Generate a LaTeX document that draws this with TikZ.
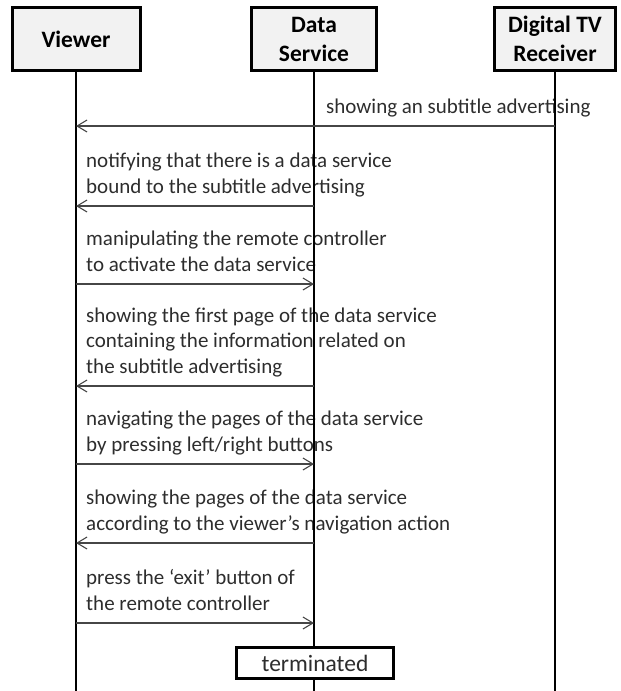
\documentclass[tikz,border=0pt]{standalone}
\usepackage{fontspec}
\setmainfont{Carlito}
\usetikzlibrary{arrows.meta,positioning}
\usepackage{xcolor}
\definecolor{sqgray}{RGB}{242,242,242}
\definecolor{sqline}{RGB}{70,70,70}
\definecolor{sqtext}{RGB}{45,45,45}
\tikzset{
    actor/.style={
        draw=black,line width=3pt,fill=sqgray,
        align=center,font=\fontsize{23.5}{29}\selectfont\bfseries
    },
    lifeline/.style={
        draw=black,line width=2pt
    },
    msg/.style={
        -{Straight Barb[length=10pt,width=12pt]},line width=1.1pt,draw=sqline
    },
    msgtext/.style={
        anchor=base west,inner sep=0pt,align=left,
        font=\fontsize{21}{25.5}\selectfont,text=sqtext
    }
}
\begin{document}
\begin{tikzpicture}[x=1pt,y=-1pt]

\useasboundingbox (0,0) rectangle (621,691);

% participants
\node[actor,minimum width=128pt,minimum height=63pt] (viewer) at (76,39) {Viewer};
\node[actor,minimum width=125pt,minimum height=63pt] (dataserv) at (314,39) {Data\\Service};
\node[actor,minimum width=121pt,minimum height=63pt] (tvrecv) at (555,39) {Digital TV\\Receiver};

% message texts (base = last line)
\node[msgtext] (t1) at (326,113) {showing an subtitle advertising};
\node[msgtext] (t2) at (86,193) {notifying that there is a data service\\bound to the subtitle advertising};
\node[msgtext] (t3) at (86,271) {manipulating the remote controller\\to activate the data service};
\node[msgtext] (t4) at (86,373) {showing the first page of the data service\\containing the information related on\\the subtitle advertising};
\node[msgtext] (t5) at (86,451) {navigating the pages of the data service\\by pressing left/right buttons};
\node[msgtext] (t6) at (86,530) {showing the pages of the data service\\according to the viewer’s navigation action};
\node[msgtext] (t7) at (86,610) {press the ‘exit’ button of\\the remote controller};

% lifelines
\coordinate (viewer-end) at (viewer.south |- 0,691);
\coordinate (dataserv-end) at (dataserv.south |- 0,691);
\coordinate (tvrecv-end) at (tvrecv.south |- 0,691);
\draw[lifeline] (viewer.south) -- (viewer-end);
\draw[lifeline] (dataserv.south) -- (dataserv-end);
\draw[lifeline] (tvrecv.south) -- (tvrecv-end);

% messages
\coordinate (r1) at (tvrecv |- 0,126);
\coordinate (v1) at (viewer |- 0,126);
\draw[msg] (r1) -- (v1);

\coordinate (d2) at (dataserv |- 0,206);
\coordinate (v2) at (viewer |- 0,206);
\draw[msg] (d2) -- (v2);

\coordinate (v3) at (viewer |- 0,284);
\coordinate (d3) at (dataserv |- 0,284);
\draw[msg] (v3) -- (d3);

\coordinate (d4) at (dataserv |- 0,386);
\coordinate (v4) at (viewer |- 0,386);
\draw[msg] (d4) -- (v4);

\coordinate (v5) at (viewer |- 0,464);
\coordinate (d5) at (dataserv |- 0,464);
\draw[msg] (v5) -- (d5);

\coordinate (d6) at (dataserv |- 0,543);
\coordinate (v6) at (viewer |- 0,543);
\draw[msg] (d6) -- (v6);

\coordinate (v7) at (viewer |- 0,623);
\coordinate (d7) at (dataserv |- 0,623);
\draw[msg] (v7) -- (d7);

% end of the scenario
\node[
draw=black,line width=3pt,fill=white,
minimum width=157pt,minimum height=31pt,
font=\fontsize{23.5}{28}\selectfont,text=sqtext
] (term) at (315,663) {terminated};

\end{tikzpicture}
\end{document}
